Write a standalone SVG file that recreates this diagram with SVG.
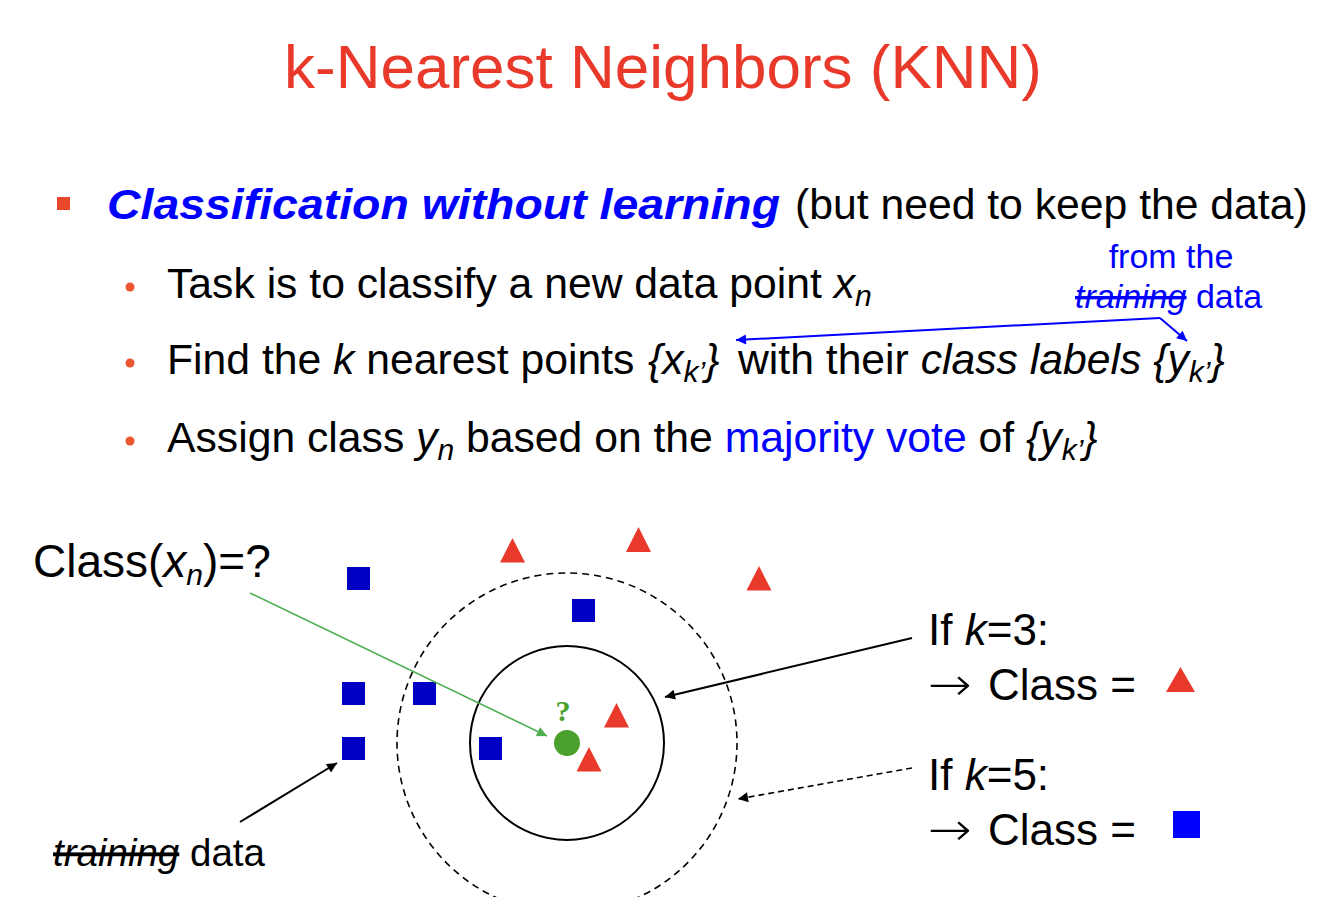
<svg xmlns="http://www.w3.org/2000/svg" width="1334" height="897" viewBox="0 0 1334 897">
<defs>
<style>
text{font-family:"Liberation Sans",Arial,sans-serif;fill:#000}
.title{font-size:62px;fill:#e9392a}
.body{font-size:42.7px}
.it{font-style:italic}
.sub{font-size:30px}
.blue{fill:#0000ff}
.ann{font-size:34px;fill:#0000ff}
.sq{fill:#0000c4}
.tri{fill:#e9392a}
.dot{fill:#eb5530}
.lbl{font-size:44px}
.arr{font-family:"DejaVu Sans",sans-serif;font-size:46px;font-weight:200}
</style>
<marker id="ah-k" viewBox="0 0 10 10" refX="10" refY="5" markerWidth="14" markerHeight="10" markerUnits="userSpaceOnUse" orient="auto"><path d="M0,0 L10,5 L0,10 z" fill="#000"/></marker>
<marker id="ah-g" viewBox="0 0 10 10" refX="10" refY="5" markerWidth="14" markerHeight="10" markerUnits="userSpaceOnUse" orient="auto"><path d="M0,0 L10,5 L0,10 z" fill="#4caf50"/></marker>
<marker id="ah-b" viewBox="0 0 10 10" refX="10" refY="5" markerWidth="14" markerHeight="10" markerUnits="userSpaceOnUse" orient="auto"><path d="M0,0 L10,5 L0,10 z" fill="#0000ff"/></marker>
</defs>
<rect width="1334" height="897" fill="#fff"/>

<g id="title"><text class="title" x="663" y="88" text-anchor="middle">k-Nearest Neighbors (KNN)</text></g>

<g id="bullet-main">
<rect x="57" y="197" width="13" height="13" fill="#e8472a"/>
<text class="body blue" x="107" y="219" font-weight="bold" font-style="italic" textLength="673" lengthAdjust="spacingAndGlyphs">Classification without learning</text>
<text class="body" x="795" y="219">(but need to keep the data)</text>
</g>

<g id="bullet-1">
<circle class="dot" cx="130" cy="287" r="4.5"/>
<text class="body" x="167" y="298">Task is to classify a new data point <tspan class="it">x</tspan><tspan class="sub it" dy="8">n</tspan></text>
</g>

<g id="bullet-2">
<circle class="dot" cx="130" cy="363" r="4.5"/>
<text class="body" x="167" y="374">Find the <tspan class="it">k</tspan> nearest points</text>
<text class="body it" x="648" y="374">{x<tspan class="sub" dy="8">k’</tspan><tspan dy="-8">}</tspan></text>
<text class="body" x="738" y="374">with their <tspan class="it">class labels {y</tspan><tspan class="sub it" dy="8">k’</tspan><tspan class="it" dy="-8">}</tspan></text>
</g>

<g id="bullet-3">
<circle class="dot" cx="130" cy="441" r="4.5"/>
<text class="body" x="167" y="452">Assign class <tspan class="it">y</tspan><tspan class="sub it" dy="8">n</tspan><tspan dy="-8"> based on the </tspan><tspan class="blue">majority vote</tspan> of <tspan class="it">{y</tspan><tspan class="sub it" dy="8">k’</tspan><tspan class="it" dy="-8">}</tspan></text>
</g>

<g id="annotation-training">
<text class="ann" x="1171" y="268" text-anchor="middle">from the</text>
<text class="ann" x="1075" y="308"><tspan class="it" text-decoration="line-through">training</tspan> data</text>
</g>

<g id="label-class-query"><text x="33" y="577" font-size="46">Class(<tspan class="it">x</tspan><tspan class="sub it" font-size="32" dy="8">n</tspan><tspan dy="-8">)=?</tspan></text></g>

<g id="label-training"><text x="53" y="866" font-size="38.5"><tspan class="it" text-decoration="line-through">training</tspan> data</text></g>

<g id="label-k3">
<text class="lbl" x="928" y="645">If <tspan class="it">k</tspan>=3:</text>
<text class="arr" x="928" y="700" textLength="44" lengthAdjust="spacingAndGlyphs">→</text>
<text class="lbl" x="988" y="700">Class =</text>
<polygon class="tri" points="1180.5,667 1195,692 1166,692"/>
</g>

<g id="label-k5">
<text class="lbl" x="928" y="790">If <tspan class="it">k</tspan>=5:</text>
<text class="arr" x="928" y="845" textLength="44" lengthAdjust="spacingAndGlyphs">→</text>
<text class="lbl" x="988" y="845">Class =</text>
<rect x="1173" y="811" width="27" height="27" fill="#0000ff"/>
</g>

<g id="circles">
<circle cx="567" cy="743" r="97" fill="none" stroke="#000" stroke-width="2"/>
<circle cx="567" cy="743" r="170" fill="none" stroke="#000" stroke-width="1.6" stroke-dasharray="7 5"/>
</g>

<g id="training-squares">
<rect class="sq" x="347" y="567" width="23" height="23"/>
<rect class="sq" x="342" y="682" width="23" height="23"/>
<rect class="sq" x="413" y="682" width="23" height="23"/>
<rect class="sq" x="342" y="737" width="23" height="23"/>
<rect class="sq" x="572" y="599" width="23" height="23"/>
<rect class="sq" x="479" y="737" width="23" height="23"/>
</g>

<g id="training-triangles">
<polygon class="tri" points="512.5,538 525,562.5 500,562.5"/>
<polygon class="tri" points="638.5,527 651,552 626,552"/>
<polygon class="tri" points="759,566 771.5,590.5 746.5,590.5"/>
<polygon class="tri" points="616.5,703 629,727.5 604,727.5"/>
<polygon class="tri" points="589,747 601.5,771.5 576.5,771.5"/>
</g>

<g id="query-point">
<circle cx="567" cy="743" r="13" fill="#4aa02c"/>
<text x="563" y="721" font-size="30" font-weight="bold" text-anchor="middle" style="font-family:'Liberation Serif',serif;fill:#4aa02c">?</text>
</g>

<g id="connectors" fill="none">
<line x1="250" y1="593" x2="547" y2="736" stroke="#4caf50" stroke-width="1.6" marker-end="url(#ah-g)"/>
<line x1="912" y1="638" x2="665" y2="697" stroke="#000" stroke-width="2" marker-end="url(#ah-k)"/>
<line x1="912" y1="768" x2="738" y2="799" stroke="#000" stroke-width="1.6" stroke-dasharray="6 4" marker-end="url(#ah-k)"/>
<line x1="240" y1="822" x2="337" y2="763" stroke="#000" stroke-width="2" marker-end="url(#ah-k)"/>
<line x1="1160" y1="318" x2="736" y2="340" stroke="#0000ff" stroke-width="2" marker-end="url(#ah-b)"/>
<line x1="1160" y1="318" x2="1187" y2="341" stroke="#0000ff" stroke-width="2" marker-end="url(#ah-b)"/>
</g>
</svg>
